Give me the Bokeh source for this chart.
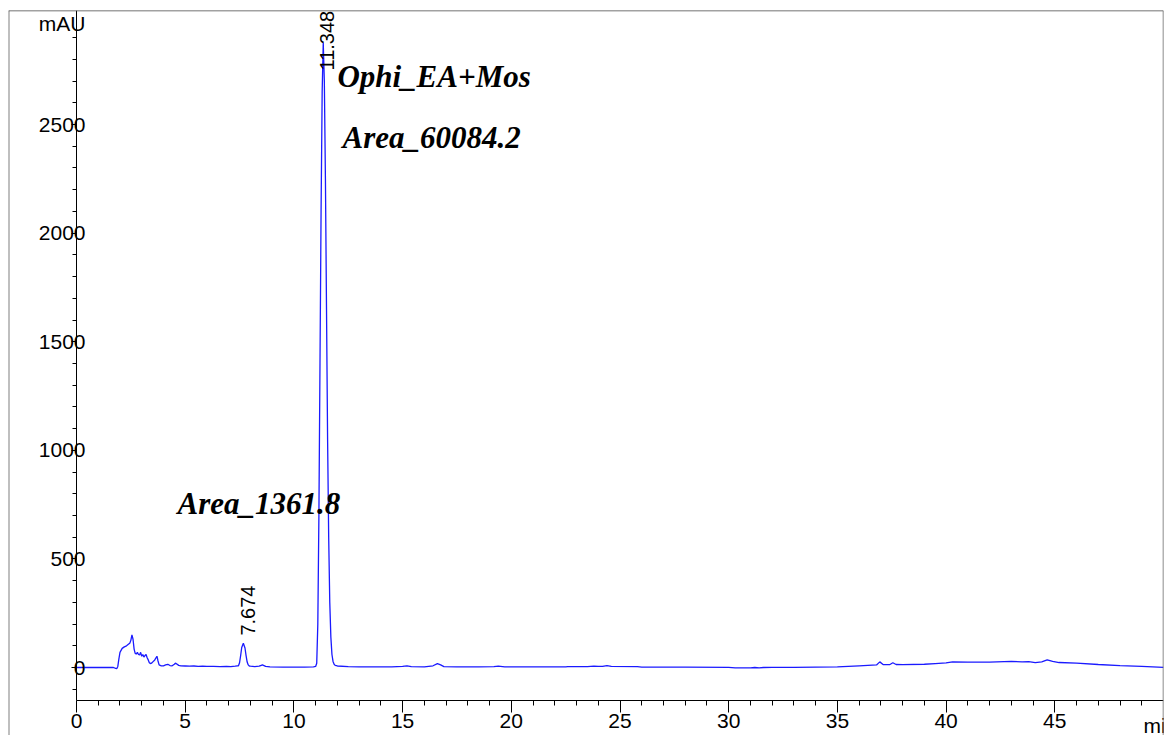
import math
from bokeh.plotting import figure
from bokeh.models import LinearAxis, FixedTicker, Span, Label, Range1d, ColumnDataSource
from bokeh.embed import file_html
from bokeh.resources import INLINE

# ---- chromatogram trace (time in min, signal in mAU) ----
time_min = [0.0, 1.0, 1.7, 1.8, 1.85, 1.9, 1.95, 2.0, 2.1, 2.2, 2.3, 2.4, 2.45, 2.5, 2.55, 2.6,
            2.65, 2.7, 2.75, 2.8, 2.85, 2.9, 2.95, 3.0, 3.05, 3.1, 3.15, 3.2, 3.25, 3.3, 3.35,
            3.4, 3.45, 3.5, 3.6, 3.7, 3.75, 3.8, 3.9, 4.0, 4.1, 4.2, 4.3, 4.4, 4.5, 4.55, 4.6,
            4.7, 4.8, 5.0, 5.2, 5.4, 5.6, 5.8, 6.0, 6.3, 6.6, 6.9, 7.1, 7.3, 7.4, 7.45, 7.5,
            7.55, 7.6, 7.675, 7.75, 7.8, 7.85, 7.9, 7.95, 8.0, 8.2, 8.4, 8.5, 8.55, 8.6, 8.7,
            8.9, 9.5, 10.0, 10.5, 10.9, 11.0, 11.05, 11.1, 11.15, 11.2, 11.25, 11.3, 11.35,
            11.4, 11.45, 11.5, 11.55, 11.6, 11.65, 11.7, 11.75, 11.8, 11.85, 11.9, 12.0, 12.5,
            13.0, 13.5, 14.0, 14.5, 15.0, 15.2, 15.4, 16.0, 16.4, 16.6, 16.75, 16.9, 17.5,
            18.5, 19.2, 19.4, 19.7, 21.0, 22.5, 22.6, 23.5, 23.8, 24.0, 24.2, 24.4, 24.6, 25.8,
            26.0, 28.0, 30.0, 30.3, 31.0, 31.2, 31.4, 31.6, 32.0, 33.0, 34.0, 35.0, 36.0, 36.8,
            36.95, 37.1, 37.4, 37.55, 37.7, 38.0, 39.0, 39.5, 40.0, 40.3, 41.0, 42.0, 43.0,
            43.5, 43.8, 44.1, 44.4, 44.65, 44.9, 45.2, 46.0, 47.0, 48.0, 49.0, 50.0]
signal_mau = [0, 0, 0, -4, -5, 5, 40, 70, 88, 95, 100, 108, 112, 125, 150, 130,
              85, 65, 62, 70, 60, 58, 70, 52, 60, 48, 55, 60, 45, 35, 22,
              18, 20, 25, 35, 52, 30, 12, 8, 8, 12, 15, 9, 8, 15, 20, 17,
              10, 8, 7, 6, 7, 5, 6, 5, 5, 4, 5, 4, 6, 8, 8, 22,
              55, 92, 112, 90, 55, 25, 12, 7, 6, 4, 6, 10, 12, 10, 5,
              3, 2, 2, 2, 3, 5, 20, 200, 700, 1400, 2100, 2650, 2877,
              2700, 2250, 1650, 1050, 600, 300, 140, 60, 28, 15, 10, 7, 4,
              3, 3, 3, 3, 5, 8, 4, 3, 8, 18, 12, 4, 3,
              3, 4, 6, 3, 3, 3, 4, 4, 6, 5, 5, 9, 5, 4,
              2, 2, 1, -2, -2, 0, -2, 0, 1, 1, 2, 3, 8, 12,
              26, 14, 13, 22, 14, 13, 15, 18, 21, 26, 25, 25, 28,
              26, 27, 23, 26, 35, 28, 23, 20, 14, 9, 5, 1]

# ---- ticks ----
x_major_ticks = [0, 5, 10, 15, 20, 25, 30, 35, 40, 45]
x_minor_ticks = [t for t in range(1, 50) if t % 5 != 0]
y_major_ticks = [0, 500, 1000, 1500, 2000, 2500]
y_minor_ticks = [t for t in range(-100, 3000, 100) if t % 500 != 0]

# ---- peak labels and annotations ----
peak_times = [7.674, 11.348]
peak_label_texts = ["7.674", "11.348"]
note_texts = ["Ophi_EA+Mos", "Area_60084.2", "Area_1361.8"]

X_START, X_END = -3.128, 50.0
Y_START, Y_END = -313.0, 3025.0
X_AXIS_AT = -152.0

p = figure(width=1164, height=735, output_backend="svg", toolbar_location=None,
           x_range=Range1d(X_START, X_END), y_range=Range1d(Y_START, Y_END),
           x_axis_location=None, y_axis_location=None,
           min_border_left=8, min_border_top=10, min_border_right=1, min_border_bottom=0)
p.outline_line_color = None
for g in p.grid:
    g.visible = False
p.background_fill_color = "white"
p.border_fill_color = "white"

FONT = "Liberation Sans"

xaxis = LinearAxis(fixed_location=X_AXIS_AT, bounds=(0, 50),
                   ticker=FixedTicker(ticks=x_major_ticks, minor_ticks=x_minor_ticks))
xaxis.axis_line_color = "black"
xaxis.major_tick_in = 0
xaxis.major_tick_out = 12
xaxis.minor_tick_in = 0
xaxis.minor_tick_out = 5
xaxis.major_tick_line_color = "black"
xaxis.minor_tick_line_color = "black"
xaxis.major_label_text_font = FONT
xaxis.major_label_text_font_size = "21px"
xaxis.major_label_text_color = "black"
xaxis.major_label_standoff = 1
p.add_layout(xaxis, "below")

yaxis = LinearAxis(fixed_location=0, bounds=(X_AXIS_AT, Y_END),
                   ticker=FixedTicker(ticks=y_major_ticks, minor_ticks=y_minor_ticks))
yaxis.axis_line_color = "black"
yaxis.major_tick_in = 0
yaxis.major_tick_out = 5
yaxis.minor_tick_in = 0
yaxis.minor_tick_out = 4
yaxis.major_tick_line_color = "black"
yaxis.minor_tick_line_color = "black"
yaxis.major_label_text_font = FONT
yaxis.major_label_text_font_size = "21px"
yaxis.major_label_text_color = "black"
yaxis.major_label_standoff = -14
p.add_layout(yaxis, "left")

# outer frame lines (left, top, right)
p.add_layout(Span(location=X_START, dimension="height", line_color="#808080", line_width=2))
p.add_layout(Span(location=Y_END, dimension="width", line_color="#444444", line_width=1.5))
p.add_layout(Span(location=X_END, dimension="height", line_color="#666666", line_width=1.5))

src = ColumnDataSource(data=dict(t=time_min, s=signal_mau))
p.line("t", "s", source=src, line_color="#1a1aff", line_width=1.3)

# axis unit labels
p.add_layout(Label(x=0, y=2967, text="mAU", text_align="right", text_baseline="middle",
                   x_offset=9, text_font=FONT, text_font_size="21px", text_color="black"))
p.add_layout(Label(x=50, y=X_AXIS_AT, text="min", text_align="left", text_baseline="top",
                   x_offset=-20, y_offset=-13, text_font=FONT, text_font_size="21px",
                   text_color="black"))

# peak retention-time labels (vertical)
peak_label_y = [147, 2749]
peak_label_dx = [5, 4]
for t, txt, yy, dx in zip(peak_times, peak_label_texts, peak_label_y, peak_label_dx):
    p.add_layout(Label(x=t, y=yy, text=txt, angle=math.pi / 2, text_align="left",
                       text_baseline="middle", x_offset=dx, text_font=FONT,
                       text_font_size="20px", text_color="black"))

# bold italic annotations
note_x = [12.0, 12.24, 4.65]
note_y = [2721, 2440, 755]
for txt, xx, yy in zip(note_texts, note_x, note_y):
    p.add_layout(Label(x=xx, y=yy, text=txt, text_align="left", text_baseline="alphabetic",
                       text_font="Liberation Serif", text_font_style="bold italic",
                       text_font_size="31px", text_color="black"))

open("out.html", "w").write(file_html(p, INLINE))
